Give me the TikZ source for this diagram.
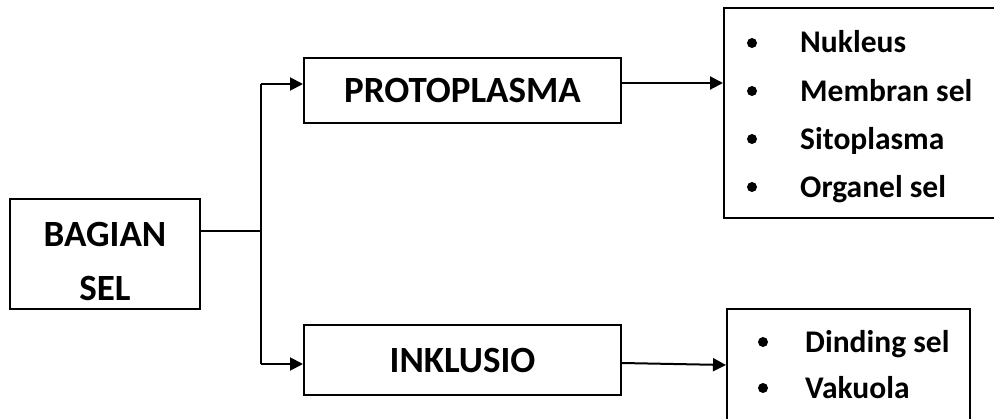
\documentclass[tikz,border=0pt]{standalone}
\usepackage{fontspec}
\setmainfont{Carlito}
\usetikzlibrary{arrows.meta}
\begin{document}
\begin{tikzpicture}[x=1pt,y=-1pt,
  box/.style={draw,line width=2pt,inner sep=0pt},
  big/.style={font=\bfseries\fontsize{37}{54}\selectfont,align=center,inner sep=0pt},
  item/.style={font=\bfseries\fontsize{31.5}{36}\selectfont,anchor=base west,inner sep=0pt},
  dot/.style={circle,fill,inner sep=0pt,minimum size=10pt},
  conn/.style={line width=2pt},
  arr/.style={line width=2pt,-{Triangle[length=13pt,width=13pt]}}]
\useasboundingbox (0,0) rectangle (994,418);
\clip (0,0) rectangle (994,418);
\fill[white] (0,0) rectangle (994,418);
% boxes
\node[box,minimum width=190pt,minimum height=110pt] (bagian) at (105,254) {};
\node[big] (bagiantxt) at (105,261) {BAGIAN\\SEL};
\node[box,big,minimum width=317pt,minimum height=65pt] (proto) at (462.5,90.5) {PROTOPLASMA};
\node[box,big,minimum width=317pt,minimum height=70pt] (inkl) at (462.5,360) {INKLUSIO};
\node[box,minimum width=280pt,minimum height=210pt] (list1) at (864,113) {};
\node[box,minimum width=243pt,minimum height=140pt] (list2) at (848.5,379) {};
% list items
\node[dot] (b1) at (752,43) {};
\node[dot] (b2) at (752,91) {};
\node[dot] (b3) at (752,139) {};
\node[dot] (b4) at (752,187) {};
\node[item] (t1) at (800,52) {Nukleus};
\node[item] (t2) at (800,101) {Membran sel};
\node[item] (t3) at (800,149) {Sitoplasma};
\node[item] (t4) at (800,197) {Organel sel};
\node[dot] (b5) at (763,342) {};
\node[dot] (b6) at (763,388) {};
\node[item] (t5) at (805,352) {Dinding sel};
\node[item] (t6) at (805,398) {Vakuola};
% connectors
\coordinate (j) at (261,231);
\coordinate (jt) at (261,84);
\coordinate (jb) at (261,364);
\draw[conn] (bagian.east |- j) -- (j);
\draw[conn] (jb) -- (jt);
\draw[arr] (jt) -- (proto.west |- jt);
\draw[arr] (jb) -- (inkl.west |- jb);
\draw[arr] (proto.east |- 0,83) -- (list1.west |- 0,83);
\draw[arr] (inkl.east |- 0,363) -- (list2.west |- 0,365);
\end{tikzpicture}
\end{document}
